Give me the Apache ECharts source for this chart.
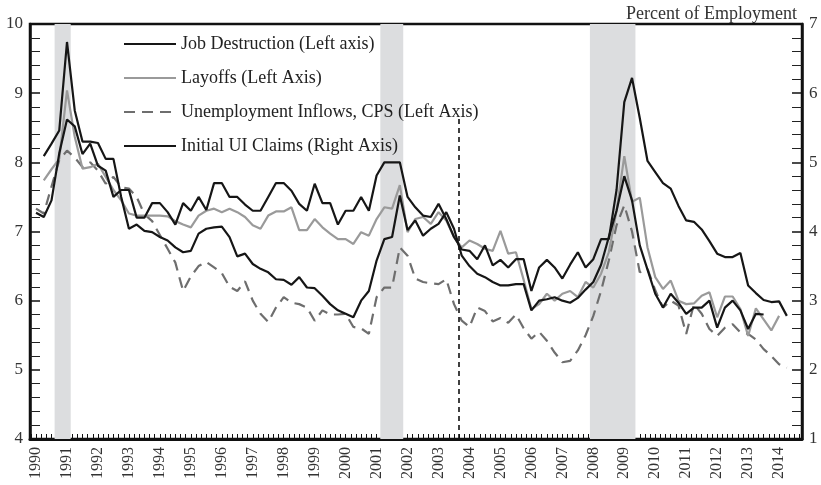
<!DOCTYPE html>
<html><head><meta charset="utf-8">
<script src="https://cdn.jsdelivr.net/npm/echarts@6/dist/echarts.min.js"></script>
<style>html,body{margin:0;padding:0;background:#fff}#c{width:821px;height:485px}</style>
</head><body><div id="c"></div>
<script>
// Year tick labels
const yearLabels = [1990,1991,1992,1993,1994,1995,1996,1997,1998,1999,2000,2001,2002,2003,2004,2005,2006,2007,2008,2009,2010,2011,2012,2013,2014];

// Quarterly series (first value's date given by *Start; one value per quarter)
const jobDestructionStart = 1990.0;   // left axis
const jobDestruction = [
  7.27,7.21,7.45,8.13,  8.62,8.52,8.12,8.27,  7.95,7.88,7.50,7.60,  7.60,7.20,7.20,7.41,
  7.41,7.28,7.10,7.41,  7.30,7.50,7.31,7.70,  7.70,7.50,7.50,7.39,  7.30,7.30,7.50,7.70,
  7.70,7.59,7.40,7.30,  7.69,7.41,7.41,7.10,  7.30,7.30,7.50,7.30,  7.81,8.00,8.00,8.00,
  7.50,7.35,7.23,7.21,  7.40,7.18,6.92,6.74,  6.72,6.60,6.80,6.51,  6.59,6.48,6.60,6.60,
  6.14,6.48,6.59,6.48,  6.32,6.52,6.70,6.48,  6.60,6.89,6.89,7.60,  8.87,9.22,8.64,8.02,
  7.86,7.70,7.62,7.37,  7.16,7.14,7.03,6.86,  6.68,6.63,6.63,6.69,  6.22,6.11,6.01,5.98,
  5.99,5.78
];

const layoffsStart = 1990.25;          // left axis
const layoffs = [
  7.74,7.90,8.05,  9.04,8.37,7.91,7.93,  7.98,7.79,7.60,7.45,  7.26,7.23,7.23,7.23,
  7.23,7.22,7.15,7.10,  7.06,7.23,7.30,7.33,  7.28,7.33,7.28,7.21,  7.09,7.04,7.23,7.29,
  7.29,7.35,7.02,7.02,  7.18,7.06,6.97,6.89,  6.89,6.82,6.99,6.94,  7.18,7.35,7.33,7.67,
  6.99,7.18,7.21,7.11,  7.28,7.16,6.92,6.77,  6.87,6.82,6.75,6.72,  7.01,6.68,6.70,6.30,
  5.88,5.95,6.10,6.00,  6.10,6.14,6.05,6.27,  6.19,6.39,6.70,7.30,  8.09,7.43,7.49,6.77,
  6.34,6.17,6.29,6.00,  5.95,5.96,6.07,6.12,  5.76,6.06,6.06,5.88,  5.49,5.89,5.73,5.57,
  5.78
];

const cpsInflowsStart = 1990.0;        // left axis
const cpsInflows = [
  7.33,7.26,7.65,8.03,  8.17,8.07,7.93,8.00,  7.88,7.69,7.79,7.64,  7.62,7.50,7.25,7.15,
  6.95,6.75,6.55,6.14,  6.35,6.50,6.56,6.48,  6.40,6.20,6.14,6.28,  6.00,5.81,5.69,5.90,
  6.05,5.97,5.95,5.90,  5.71,5.86,5.80,5.80,  5.81,5.62,5.60,5.52,  6.05,6.19,6.19,6.77,
  6.65,6.32,6.27,6.25,  6.24,6.31,5.95,5.71,  5.62,5.90,5.85,5.70,  5.75,5.68,5.80,5.60,
  5.45,5.55,5.42,5.25,  5.11,5.13,5.28,5.50,  5.78,6.14,6.58,7.09,  7.38,7.00,6.41,6.46,
  6.15,5.90,6.00,5.93,  5.52,5.95,5.81,5.59,  5.49,5.61,5.66,5.54,  5.52,5.44,5.30,5.20,
  5.08,5.03
];

const uiClaimsStart = 1990.25;         // right axis
const uiClaims = [
  5.09,5.27,5.46,  6.74,5.75,5.30,5.30,  5.28,5.05,5.05,4.50,  4.04,4.10,4.01,3.99,
  3.92,3.87,3.77,3.70,  3.72,3.97,4.04,4.06,  4.07,3.92,3.64,3.68,  3.53,3.46,3.41,3.31,
  3.30,3.23,3.34,3.19,  3.18,3.07,2.95,2.86,  2.81,2.76,3.00,3.14,  3.58,3.89,3.92,4.52,
  4.02,4.16,3.94,4.04,  4.11,4.28,4.04,3.65,  3.50,3.39,3.34,3.27,  3.22,3.22,3.24,3.24,
  2.86,3.00,3.02,3.05,  3.00,2.97,3.04,3.16,  3.27,3.52,3.92,4.30,  4.80,4.45,3.80,3.45,
  3.10,2.90,3.10,2.97,  2.81,2.90,2.90,3.00,  2.61,2.90,3.00,2.86,  2.59,2.81,2.80
];

// Recession shading periods and the vertical break line
const recessions = [[1990.60, 1991.12], [2001.12, 2001.86], [2007.89, 2009.36]];
const breakLineDate = 2003.64;

function toPairs(start, vals) { return vals.map((v, i) => [start + i * 0.25, v]); }

const tickValues = [];
for (let k = -1; k <= 24 * 6 + 4; k++) tickValues.push(1990 + k / 6);

const FONT = 'Liberation Serif';
const chart = echarts.init(document.getElementById('c'), null, {renderer: 'canvas'});

const yAxisCommon = {
  type: 'value', interval: 1,
  axisLine: {show: true, lineStyle: {color: '#111', width: 2.5}},
  axisTick: {show: true, inside: true, length: 10, lineStyle: {color: '#111', width: 1.5}},
  minorTick: {show: true, splitNumber: 5, length: 10, lineStyle: {color: '#222', width: 1}},
  axisLabel: {fontFamily: FONT, fontSize: 17, color: '#333', margin: 7},
  splitLine: {show: false}
};

chart.setOption({
  animation: false,
  backgroundColor: '#fff',
  title: {
    text: 'Percent of Employment', right: 19, top: 0,
    textStyle: {fontFamily: FONT, fontSize: 18, fontWeight: 'normal', color: '#333'}
  },
  grid: {left: 30, right: 19, top: 24, bottom: 46, show: true, borderColor: '#111', borderWidth: 2.5},
  legend: {
    orient: 'vertical', left: 118, top: 30, itemWidth: 52, itemHeight: 16, itemGap: 16,
    itemStyle: {opacity: 0},
    textStyle: {fontFamily: FONT, fontSize: 18, color: '#222', lineHeight: 18},
    data: ['Job Destruction (Left axis)', 'Layoffs (Left Axis)', 'Unemployment Inflows, CPS (Left Axis)', 'Initial UI Claims (Right Axis)']
  },
  xAxis: {
    type: 'value', min: 1989.805, max: 2014.74,
    axisLine: {show: true, lineStyle: {color: '#111', width: 3}},
    axisTick: {show: true, inside: true, length: 5, lineStyle: {color: '#111', width: 1}, customValues: tickValues.filter(v => v > 1989.81 && v < 2014.73)},
    axisLabel: {customValues: yearLabels, rotate: 90, fontFamily: FONT, fontSize: 16, color: '#333', margin: 8,
      formatter: v => String(Math.round(v))},
    splitLine: {show: false}
  },
  yAxis: [
    Object.assign({}, yAxisCommon, {min: 4, max: 10, position: 'left'}),
    Object.assign({}, yAxisCommon, {min: 1, max: 7, position: 'right'})
  ],
  series: [
    {
      name: 'shading', type: 'line', data: [], z: 1, silent: true,
      markArea: {silent: true, itemStyle: {color: '#dcdddf'},
        data: recessions.map(r => [{xAxis: r[0]}, {xAxis: r[1]}])},
      markLine: {silent: true, symbol: 'none', label: {show: false},
        lineStyle: {color: '#111', width: 1.6, type: [5, 4]},
        data: [[{coord: [breakLineDate, 4]}, {coord: [breakLineDate, 8.64]}]]}
    },
    {
      name: 'Unemployment Inflows, CPS (Left Axis)', type: 'line', yAxisIndex: 0, z: 2,
      symbol: 'none', data: toPairs(cpsInflowsStart, cpsInflows),
      lineStyle: {color: '#6e6e6e', width: 2.2, type: [11, 7]}, itemStyle: {color: '#6e6e6e'}
    },
    {
      name: 'Layoffs (Left Axis)', type: 'line', yAxisIndex: 0, z: 3,
      symbol: 'none', data: toPairs(layoffsStart, layoffs),
      lineStyle: {color: '#9a9a9a', width: 2.2}, itemStyle: {color: '#9a9a9a'}
    },
    {
      name: 'Initial UI Claims (Right Axis)', type: 'line', yAxisIndex: 1, z: 4,
      symbol: 'none', data: toPairs(uiClaimsStart, uiClaims),
      lineStyle: {color: '#161616', width: 2.2}, itemStyle: {color: '#161616'}
    },
    {
      name: 'Job Destruction (Left axis)', type: 'line', yAxisIndex: 0, z: 5,
      symbol: 'none', data: toPairs(jobDestructionStart, jobDestruction),
      lineStyle: {color: '#161616', width: 2.2}, itemStyle: {color: '#161616'}
    }
  ]
});
</script>
</body></html>
